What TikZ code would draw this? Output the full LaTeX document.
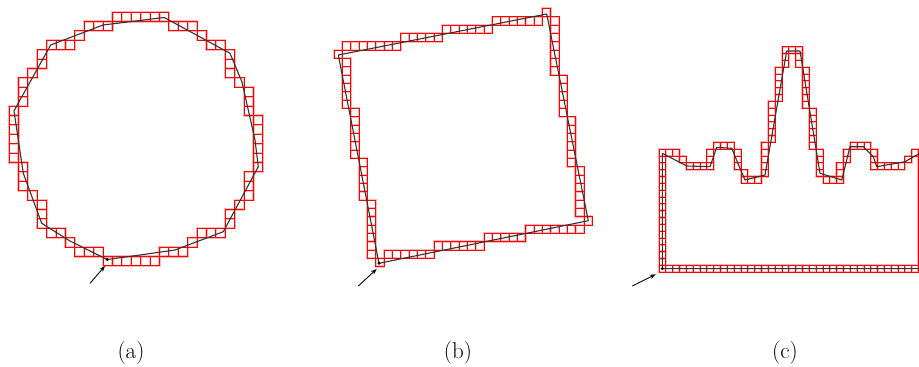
\documentclass[tikz,border=0pt]{standalone}
\usetikzlibrary{arrows.meta}
\tikzset{
  cell/.style={draw=red, line width=0.8pt},
  halo/.style={draw=red!28, line width=2.2pt},
  contour/.style={draw=black!80, line width=1.1pt, line join=round},
  pointer/.style={draw=black, line width=0.9pt, -{Stealth[length=6pt,width=4.5pt]}},
  caption/.style={font=\fontsize{23}{27}\selectfont, inner sep=0pt},
  vdot/.style={fill=black, draw=none}
}
\newcommand\setgrid[3]{\def\gx{#1}\def\gy{#2}\def\gs{#3}}
\newcommand\hcells[3]{\foreach \q in {#1,...,#2}{\draw[\cellstyle] ({\gx+\q*\gs},{\gy+#3*\gs}) rectangle ++(\gs,\gs);}}
\newcommand\vcells[3]{\foreach \q in {#2,...,#3}{\draw[\cellstyle] ({\gx+#1*\gs},{\gy+\q*\gs}) rectangle ++(\gs,\gs);}}
\newcommand\onecell[2]{\draw[\cellstyle] ({\gx+#1*\gs},{\gy+#2*\gs}) rectangle ++(\gs,\gs);}
% panel (a): digitised circle
\newcommand\panelA{%
  \setgrid{9}{12}{9.4}%
  \hcells{11}{16}{0}\hcells{8}{10}{1}\hcells{17}{19}{1}%
  \onecell{7}{2}\onecell{20}{2}%
  \hcells{4}{6}{3}\hcells{21}{22}{3}%
  \vcells{3}{4}{5}\vcells{23}{4}{6}%
  \onecell{2}{6}\onecell{24}{7}%
  \vcells{1}{7}{9}\vcells{25}{8}{10}%
  \vcells{0}{10}{15}\vcells{26}{11}{16}%
  \vcells{1}{16}{18}\vcells{25}{17}{19}%
  \onecell{2}{19}\onecell{24}{20}%
  \vcells{3}{20}{22}\vcells{23}{21}{22}%
  \hcells{4}{5}{23}\hcells{20}{22}{23}%
  \onecell{6}{24}\onecell{19}{24}%
  \hcells{7}{9}{25}\hcells{16}{18}{25}%
  \hcells{10}{15}{26}}
% panel (b): digitised rotated square
\newcommand\panelB{%
  \setgrid{334}{8.33}{8.33}%
  \onecell{0}{5}\hcells{1}{7}{4}\hcells{8}{12}{3}\hcells{13}{18}{2}\hcells{19}{24}{1}\onecell{25}{0}%
  \vcells{26}{1}{7}\vcells{27}{8}{12}\vcells{28}{13}{18}\vcells{29}{19}{24}\onecell{30}{25}%
  \hcells{23}{29}{26}\hcells{18}{22}{27}\hcells{12}{17}{28}\hcells{6}{11}{29}\onecell{5}{30}%
  \vcells{4}{23}{29}\vcells{3}{18}{22}\vcells{2}{12}{17}\vcells{1}{6}{11}}
% panel (c): digitised profile
\newcommand\panelC{%
  \setgrid{659}{46.67}{6.83}%
  \vcells{0}{15}{32}\hcells{1}{38}{32}%
  \hcells{1}{2}{15}\onecell{3}{16}\hcells{4}{7}{17}\vcells{7}{15}{16}%
  \hcells{8}{10}{14}\vcells{11}{15}{17}\onecell{12}{18}\hcells{12}{14}{19}%
  \vcells{15}{14}{18}\vcells{16}{8}{13}\vcells{17}{3}{7}\vcells{18}{0}{2}%
  \hcells{19}{20}{0}\vcells{20}{1}{2}\vcells{21}{3}{8}\vcells{22}{9}{14}\vcells{23}{15}{18}%
  \hcells{24}{26}{19}\vcells{26}{17}{18}\vcells{27}{15}{16}\hcells{28}{30}{14}%
  \vcells{31}{15}{16}\hcells{31}{35}{17}\onecell{36}{16}\onecell{37}{15}\vcells{38}{15}{31}}
\begin{document}
\begin{tikzpicture}[x=1pt,y=-1pt]
\useasboundingbox (0,0) rectangle (919,367);
\fill[white] (0,0) rectangle (919,367);
\begin{scope}
\clip (0,0) rectangle (919,367);
\def\cellstyle{halo}\panelA\panelB\panelC
\def\cellstyle{cell}\panelA\panelB\panelC
% contours
\draw[contour] (107.3,259.5) -- (70,241) -- (41.7,223.3) -- (23.3,173.3) -- (14,111) -- (18.3,103)
  -- (50.7,45) -- (103,25) -- (164.3,17.5) -- (230,53.3) -- (242,82) -- (255,140) -- (258.3,166.7)
  -- (223.3,231.7) -- (175,250) -- (135,255.7) -- cycle;
\draw[contour] (379,263.3) -- (338.3,55) -- (546.7,14) -- (588.3,220.7) -- cycle;
\draw[contour] (662.4,268.6) -- (662.4,153.3) -- (686.7,166) -- (710,166.7) -- (716.7,147.3)
  -- (731.7,148.3) -- (739.3,166.7) -- (745,180) -- (765,175) -- (786.7,51) -- (800,51)
  -- (820,173.3) -- (841.7,180) -- (850,146.7) -- (863.3,146.7) -- (873.3,156.7) -- (876.7,166.7)
  -- (905,161.7) -- (916.7,155) -- (930,150) -- (930,268.6) -- cycle;
\end{scope}
% start points
\coordinate (sa) at (107.3,259.5);
\coordinate (sb) at (379,263.3);
\coordinate (sc) at (662.4,268.6);
\fill[vdot] (sa) circle (1.6);
\fill[vdot] (sb) circle (1.6);
\fill[vdot] (sc) circle (1.6);
\coordinate (ta) at (90,283.3);
\coordinate (ea) at (105,266);
\coordinate (tb) at (358.3,286);
\coordinate (eb) at (376.7,269);
\coordinate (tc) at (632.3,286);
\coordinate (ec) at (655.7,274.3);
\draw[pointer] (ta) -- (ea);
\draw[pointer] (tb) -- (eb);
\draw[pointer] (tc) -- (ec);
% captions
\node[caption] (capa) at (131,353) {(a)};
\node[caption] (capb) at (458,353) {(b)};
\node[caption] (capc) at (785,353) {(c)};
\end{tikzpicture}
\end{document}
